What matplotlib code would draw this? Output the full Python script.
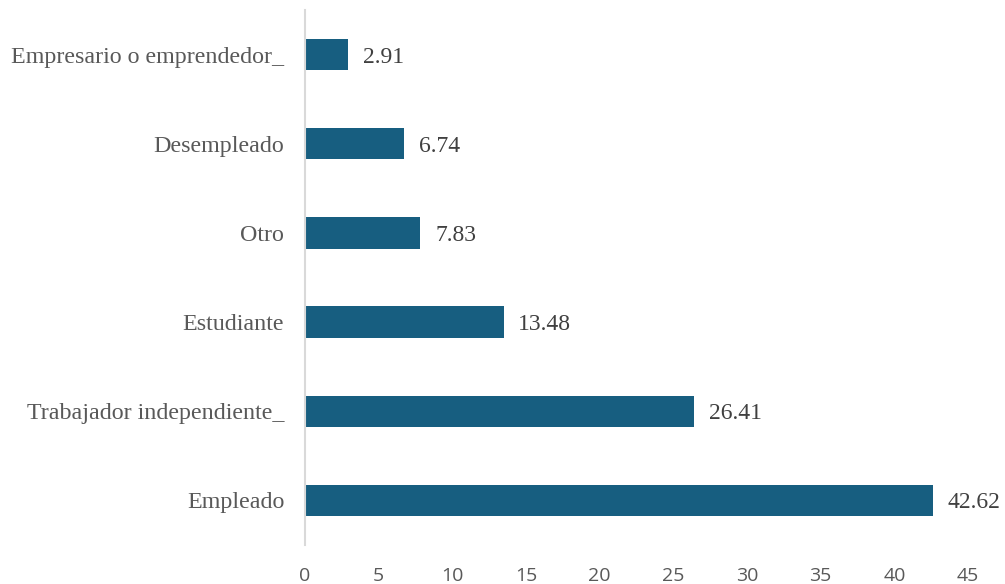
import matplotlib
matplotlib.use("Agg")
import matplotlib.pyplot as plt

categories = ["Empleado", "Trabajador independiente_", "Estudiante", "Otro",
              "Desempleado", "Empresario o emprendedor_"]
values = [42.62, 26.41, 13.48, 7.83, 6.74, 2.91]
xticks = [0, 5, 10, 15, 20, 25, 30, 35, 40, 45]

bar_color = "#175E80"

fig = plt.figure(figsize=(10.05, 5.84), dpi=100)
ax = fig.add_axes([305 / 1005, 39 / 584, 663 / 1005, 535 / 584])

ypos = list(range(len(categories)))
ax.barh(ypos, values, height=0.35, color=bar_color)

for y, v in zip(ypos, values):
    ax.text(v + 1.0, y, f"{v:.2f}", va="center_baseline", ha="left",
            family="Liberation Serif", fontsize=17, color="#404040")

ax.set_xlim(0, 45)
ax.set_ylim(-0.5, len(categories) - 0.5)
ax.set_yticks(ypos)
ax.set_yticklabels(categories, family="Liberation Serif", fontsize=17.3, color="#595959")
ax.set_xticks(xticks)
ax.set_xticklabels([str(t) for t in xticks], family="Open Sans", fontsize=14, color="#595959")
ax.tick_params(axis="both", length=0)
ax.tick_params(axis="x", pad=16)
ax.tick_params(axis="y", pad=15)
for lbl in ax.get_yticklabels():
    lbl.set_verticalalignment("center_baseline")

for side in ["top", "right", "bottom"]:
    ax.spines[side].set_visible(False)
ax.spines["left"].set_color("#D9D9D9")
ax.spines["left"].set_linewidth(1.5)

fig.savefig("out.png", dpi=100)
